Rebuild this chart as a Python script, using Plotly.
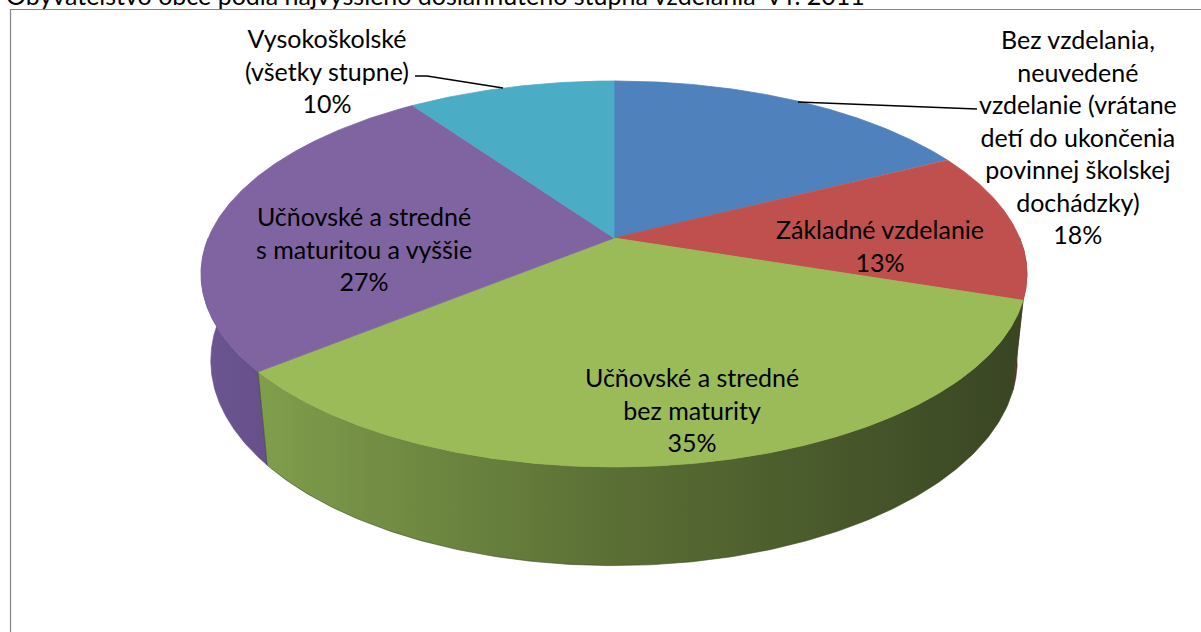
import numpy as np
import plotly.graph_objects as go

# ---------------- data ----------------
categories = [
    "Bez vzdelania, neuvedené vzdelanie (vrátane detí do ukončenia povinnej školskej dochádzky)",
    "Základné vzdelanie",
    "Učňovské a stredné bez maturity",
    "Učňovské a stredné s maturitou a vyššie",
    "Vysokoškolské (všetky stupne)",
]
label_lines = [
    "Bez vzdelania,<br>neuvedené<br>vzdelanie (vrátane<br>detí do ukončenia<br>povinnej školskej<br>dochádzky)",
    "Základné vzdelanie",
    "Učňovské a stredné<br>bez maturity",
    "Učňovské a stredné<br>s maturitou a vyššie",
    "Vysokoškolské<br>(všetky stupne)",
]
values = [18, 13, 35, 27, 10]  # percent
title_text = "Obyvateľstvo obce podľa najvyššieho dosiahnutého stupňa vzdelania  v r. 2011"

# ---------------- style ----------------
top_colors = ["#4f81bd", "#c0504d", "#9bbb59", "#8064a2", "#4bacc6"]
wall_scales = [
    [[0, "#3b5a85"], [1, "#2c4366"]],
    [[0, "#7a302e"], [1, "#5a2220"]],
    [[0, "#809e4c"], [0.45, "#5b7035"], [1, "#394523"]],
    [[0, "#6c5693"], [1, "#664f8a"]],
    [[0, "#357a8c"], [1, "#2a6070"]],
]
label_pos = [(1078, 136), (880, 245), (692, 409), (364, 248), (327, 70)]
FONT = "Lato, Calibri, Carlito, sans-serif"
FS = 25

# perspective pie geometry (pixels)
W, H = 1201, 632
CX, CY = 614, 238
A, B, K = 405.7, 186.3, 0.1865
VY, LAM = 4000.0, 0.0227


def rim(t):
    d = 1 + K * np.cos(t)
    return CX + A * np.sin(t) / d, CY - B * np.cos(t) / d, d


def bottom(t):
    x, y, d = rim(t)
    lam = LAM / d
    return x + lam * (CX - x), y + lam * (VY - y)


total = float(sum(values))
cum = np.concatenate([[0.0], np.cumsum(values)]) / total * 2 * np.pi

fig = go.Figure()

# side walls (visible front half), far ones first
walls = []
for i in range(len(values)):
    a0 = max(cum[i], np.pi / 2)
    a1 = min(cum[i + 1], 3 * np.pi / 2)
    if a1 <= a0:
        continue
    mid = (a0 + a1) / 2
    walls.append((abs(mid - np.pi), i, a0, a1))
walls.sort(reverse=True)
for _, i, a0, a1 in walls:
    t = np.linspace(a0, a1, 200)
    xt, yt, _d = rim(t)
    xb, yb = bottom(t[::-1])
    xs = np.concatenate([xt, xb, xt[:1]])
    ys = np.concatenate([yt, yb, yt[:1]])
    fig.add_trace(go.Scatter(
        x=xs, y=ys, mode="lines", fill="toself",
        line=dict(width=0.6, color=wall_scales[i][-1][1]),
        fillgradient=dict(type="horizontal", colorscale=wall_scales[i]),
        hoverinfo="skip", showlegend=False,
    ))

# top faces
for i in range(len(values)):
    t = np.linspace(cum[i], cum[i + 1], 300)
    xr, yr, _d = rim(t)
    xs = np.concatenate([[CX], xr, [CX]])
    ys = np.concatenate([[CY], yr, [CY]])
    fig.add_trace(go.Scatter(
        x=xs, y=ys, mode="lines", fill="toself",
        fillcolor=top_colors[i], line=dict(width=0.8, color=top_colors[i]),
        name=categories[i], hoverinfo="skip", showlegend=False,
    ))

# data labels
annotations = []
for i in range(len(values)):
    lx, ly = label_pos[i]
    annotations.append(dict(
        x=lx, y=ly, xref="x", yref="y", showarrow=False,
        text=f"{label_lines[i]}<br>{values[i]}%",
        font=dict(family=FONT, size=FS, color="#000000"),
        xanchor="center", yanchor="middle", align="center",
    ))
annotations.append(dict(
    x=0.003, y=1 + 5 / H, xref="paper", yref="paper", showarrow=False,
    text=title_text, xanchor="left", yanchor="middle",
    font=dict(family=FONT, size=25, color="#000000"),
))

shapes = [
    dict(type="rect", xref="x", yref="y", x0=10.5, y0=9.5, x1=1400, y1=800,
         line=dict(color="#868686", width=1.2), fillcolor="rgba(0,0,0,0)", layer="below"),
    dict(type="path", xref="x", yref="y", path="M 415 76 L 427 76 L 503 88",
         line=dict(color="#000000", width=1.3)),
    dict(type="path", xref="x", yref="y", path="M 977 109 L 798 102",
         line=dict(color="#000000", width=1.3)),
]

fig.update_layout(
    width=W, height=H,
    margin=dict(l=0, r=0, t=0, b=0),
    paper_bgcolor="#ffffff", plot_bgcolor="#ffffff",
    xaxis=dict(range=[0, W], visible=False, fixedrange=True),
    yaxis=dict(range=[H, 0], visible=False, fixedrange=True),
    annotations=annotations, shapes=shapes,
    showlegend=False,
)

fig.write_html(
    "out.html",
    config={"displayModeBar": False},
    post_script="document.body.style.margin='0px';document.body.style.overflow='hidden';",
)
